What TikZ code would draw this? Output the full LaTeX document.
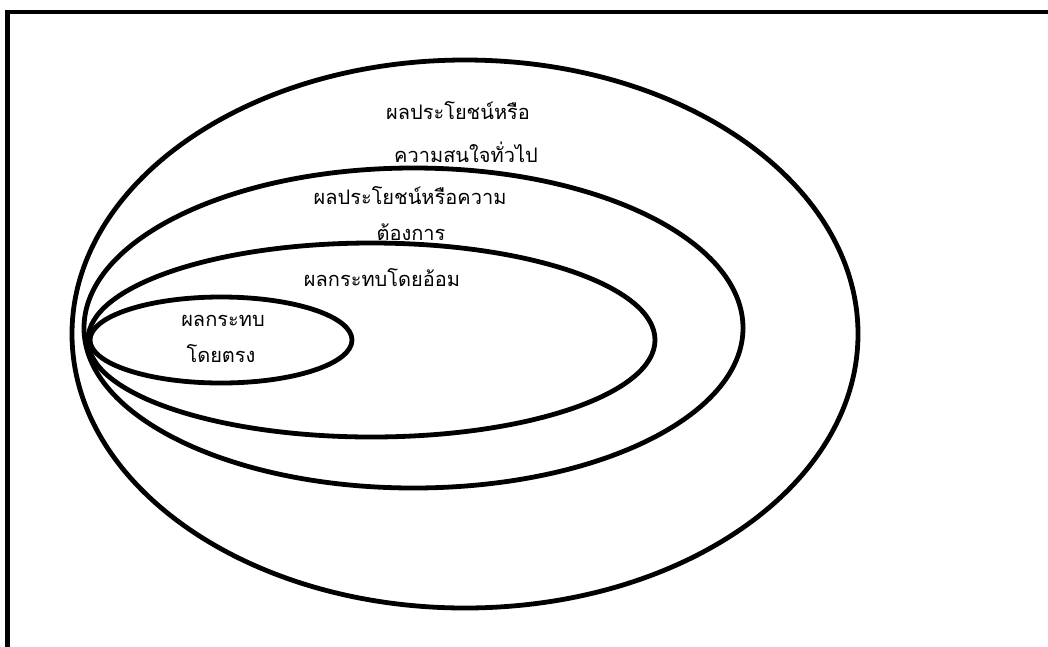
\documentclass[tikz,border=0pt]{standalone}
\usepackage{fontspec}
\newfontfamily\thaifont[Script=Thai]{Loma}
\usetikzlibrary{positioning}

\begin{document}
\begin{tikzpicture}[x=1pt, y=-1pt,
        ring/.style={line width=4.8pt},
        lbl/.style={font=\thaifont\fontsize{20}{23}\selectfont, inner sep=0pt},
        frame/.style={line width=4.8pt}
    ]
    \useasboundingbox (0,0) rectangle (1048,646);
    % frame (cut at right and bottom)
    \coordinate (fbl) at (7.5,650);
    \coordinate (ftl) at (7.5,12);
    \coordinate (ftr) at (1052,12);
    \draw[frame] (fbl) -- (ftl) -- (ftr);

    % nested ellipses
    \coordinate (cgen)  at (465,334);
    \coordinate (cneed) at (413.5,328);
    \coordinate (cind)  at (371.5,340);
    \coordinate (cdir)  at (221,340);
    \draw[ring] (cgen)  ellipse [x radius=393,   y radius=274];
    \draw[ring] (cneed) ellipse [x radius=329.5, y radius=160];
    \draw[ring] (cind)  ellipse [x radius=283.5, y radius=97];
    \draw[ring] (cdir)  ellipse [x radius=131,   y radius=43];

    % labels
    \node[lbl] (gen1)  at (458,111) {ผลประโยชน์หรือ};
    \node[lbl] (gen2)  at (466,152) {ความสนใจทั่วไป};
    \node[lbl] (need1) at (410,196) {ผลประโยชน์หรือความ};
    \node[lbl] (need2) at (411,232) {ต้องการ};
    \node[lbl] (ind)   at (382,278) {ผลกระทบโดยอ้อม};
    \node[lbl] (dir1)  at (223,321) {ผลกระทบ};
    \node[lbl] (dir2)  at (221,354) {โดยตรง};
\end{tikzpicture}
\end{document}
